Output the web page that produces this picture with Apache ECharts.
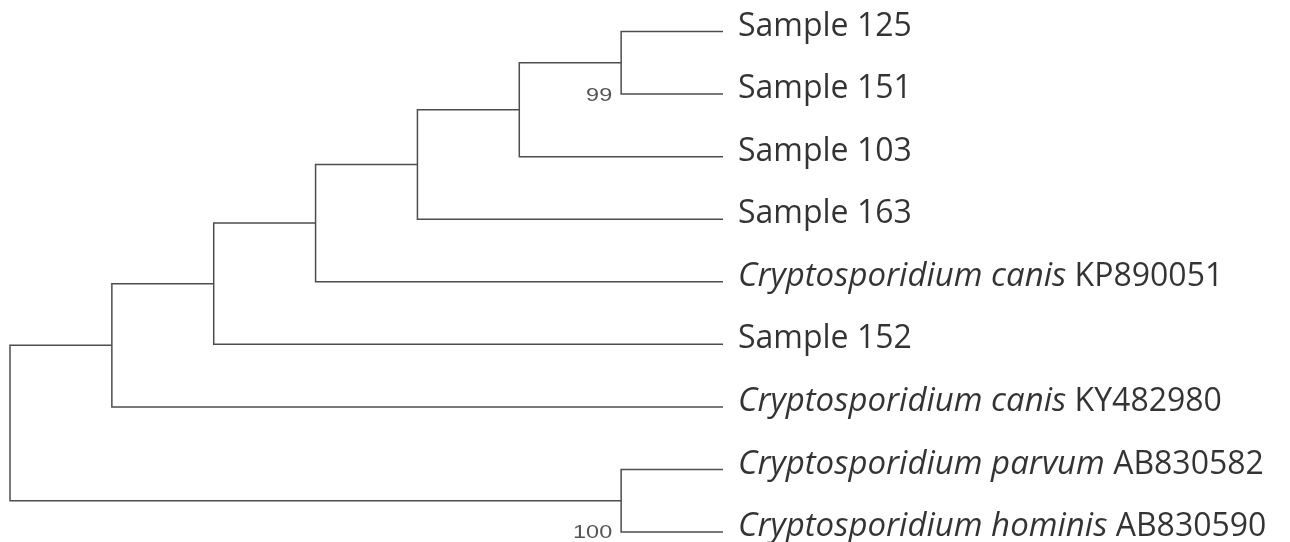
<!DOCTYPE html>
<html>
<head>
<meta charset="utf-8">
<script src="https://cdn.jsdelivr.net/npm/echarts@6/dist/echarts.min.js"></script>
<style>
  html, body { margin: 0; padding: 0; background: #ffffff; }
  #chart { width: 1290px; height: 542px; }
</style>
</head>
<body>
<div id="chart"></div>
<script>
// Taxa, top to bottom; the italic part is the species name, the rest the accession or sample id
const taxonSpecies = [
  '', '', '', '',
  'Cryptosporidium canis',
  '',
  'Cryptosporidium canis',
  'Cryptosporidium parvum',
  'Cryptosporidium hominis'
];
const taxonIds = [
  'Sample 125', 'Sample 151', 'Sample 103', 'Sample 163',
  'KP890051', 'Sample 152', 'KY482980', 'AB830582', 'AB830590'
];

// Topology as nested pairs of taxon indices (topology-only tree, tips aligned)
const topology = [[[[[[[0, 1], 2], 3], 4], 5], 6], [7, 8]];

// Bootstrap support, keyed by the clade's taxa
const supportClades = ['0,1', '7,8'];
const supportValues = [99, 100];

// ---- build tree geometry in data units (x = tipDepth - clade height, y = tip order) ----
function height(node) {
  return Array.isArray(node) ? 1 + Math.max(...node.map(height)) : 0;
}
const tipDepth = height(topology);

const brackets = [];   // [nodeX, [childX, childY]...]
const supports = [];   // [nodeX, lowerChildY, value]

function layout(node) {
  if (!Array.isArray(node)) {
    return { x: tipDepth, y: node, tips: [node] };
  }
  const kids = node.map(layout);
  const x = tipDepth - height(node);
  const ys = kids.map(k => k.y);
  const y = (Math.min(...ys) + Math.max(...ys)) / 2;
  brackets.push([x, kids.map(k => [k.x, k.y])]);
  const tips = kids.flatMap(k => k.tips);
  const idx = supportClades.indexOf(tips.join(','));
  if (idx >= 0) supports.push([x, Math.max(...ys), supportValues[idx]]);
  return { x: x, y: y, tips: tips };
}
layout(topology);

const tipData = taxonIds.map((id, i) => ({
  value: [tipDepth, i],
  species: taxonSpecies[i],
  id: id
}));

const lineColor = '#4d4d4d';

const chart = echarts.init(document.getElementById('chart'), null, { renderer: 'canvas' });

chart.setOption({
  animation: false,
  backgroundColor: '#ffffff',
  grid: { left: 10, right: 567, top: 31.5, bottom: 10 },
  xAxis: { type: 'value', min: 0, max: tipDepth, show: false },
  yAxis: { type: 'value', min: 0, max: taxonIds.length - 1, inverse: true, show: false },
  series: [
    {
      // branches: one bracket per internal node
      type: 'custom',
      coordinateSystem: 'cartesian2d',
      data: brackets.map((b, i) => [b[0], i]),
      renderItem: function (params, api) {
        const b = brackets[params.dataIndex];
        const d = b[0];
        const kids = b[1];
        const first = kids[0], last = kids[kids.length - 1];
        const pts = [
          api.coord([first[0], first[1]]),
          api.coord([d, first[1]]),
          api.coord([d, last[1]]),
          api.coord([last[0], last[1]])
        ];
        const children = [{
          type: 'polyline',
          shape: { points: pts },
          style: { stroke: lineColor, lineWidth: 1.5, fill: null, lineJoin: 'miter' }
        }];
        for (let k = 1; k < kids.length - 1; k++) {
          const a = api.coord([d, kids[k][1]]);
          const c = api.coord(kids[k]);
          children.push({
            type: 'line',
            shape: { x1: a[0], y1: a[1], x2: c[0], y2: c[1] },
            style: { stroke: lineColor, lineWidth: 1.5 }
          });
        }
        return { type: 'group', children: children };
      },
      silent: true,
      z: 2
    },
    {
      // bootstrap values beside their nodes
      type: 'custom',
      coordinateSystem: 'cartesian2d',
      data: supports.map(s => [s[0], s[1], s[2]]),
      renderItem: function (params, api) {
        const p = api.coord([api.value(0), api.value(1)]);
        return {
          type: 'text',
          x: p[0] - 9,
          y: p[1] + 1.5,
          scaleX: 1.3,
          style: {
            text: String(api.value(2)),
            align: 'right',
            verticalAlign: 'middle',
            fill: '#555555',
            font: '18px "Liberation Sans", Arial, sans-serif'
          }
        };
      },
      silent: true,
      z: 3
    },
    {
      // tip labels
      type: 'scatter',
      data: tipData,
      symbolSize: 0,
      silent: true,
      label: {
        show: true,
        position: 'right',
        distance: 15,
        offset: [0, -5],
        color: '#000000',
        fontFamily: '"Open Sans", sans-serif',
        fontSize: 32,
        formatter: function (p) {
          const d = p.data;
          return d.species ? '{i|' + d.species + '} ' + d.id : d.id;
        },
        rich: {
          i: {
            fontStyle: 'italic',
            fontFamily: '"Open Sans", sans-serif',
            fontSize: 33,
            color: '#000000'
          }
        }
      },
      z: 4
    }
  ]
});
</script>
</body>
</html>
